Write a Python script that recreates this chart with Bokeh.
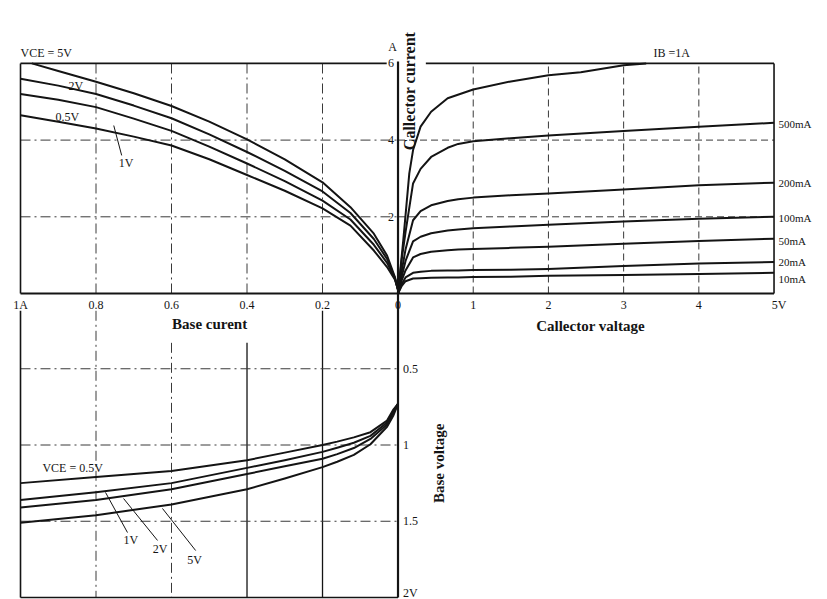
import numpy as np
from bokeh.plotting import figure
from bokeh.models import Range1d
from bokeh.core.properties import value
from bokeh.embed import file_html
from bokeh.resources import INLINE

# ---------------- data ----------------
# Output characteristics: collector voltage (V) -> collector current (A)
vce_1a = [0, 0.03, 0.07, 0.11, 0.15, 0.2, 0.3, 0.44, 0.66, 1.0, 1.5, 2.0, 2.43, 3.0, 3.3]
ic_1a = [0, 0.6, 1.39, 2.26, 3.13, 3.74, 4.35, 4.74, 5.09, 5.32, 5.53, 5.69, 5.77, 5.95, 6.0]
vce = [0, 0.05, 0.1, 0.2, 0.3, 0.44, 0.66, 0.8, 1.0, 1.5, 2.0, 3.0, 4.0, 5.0]
ic_500ma = [0, 0.9, 1.6, 2.87, 3.25, 3.56, 3.80, 3.90, 3.97, 4.05, 4.12, 4.24, 4.35, 4.45]
ic_200ma = [0, 0.6, 1.15, 1.91, 2.15, 2.30, 2.41, 2.46, 2.50, 2.56, 2.61, 2.71, 2.82, 2.89]
ic_100ma = [0, 0.45, 0.85, 1.36, 1.48, 1.57, 1.64, 1.67, 1.70, 1.75, 1.79, 1.88, 1.95, 2.0]
ic_50ma = [0, 0.35, 0.6, 0.94, 1.03, 1.09, 1.13, 1.15, 1.16, 1.19, 1.22, 1.30, 1.37, 1.43]
ic_20ma = [0, 0.25, 0.42, 0.54, 0.57, 0.59, 0.60, 0.60, 0.61, 0.62, 0.64, 0.72, 0.78, 0.82]
ic_10ma = [0, 0.2, 0.32, 0.39, 0.40, 0.41, 0.42, 0.42, 0.43, 0.44, 0.46, 0.48, 0.51, 0.54]
ib_series_labels = ["500mA", "200mA", "100mA", "50mA", "20mA", "10mA"]
ib_label_y = [4.43, 2.87, 1.98, 1.38, 0.81, 0.37]

# Current transfer: base current (A) -> collector current (A)
ib_t = [0, 0.008, 0.029, 0.064, 0.126, 0.2, 0.3, 0.4, 0.5, 0.6, 0.7, 0.8, 0.9, 1.0]
ib_t5 = [0, 0.008, 0.029, 0.064, 0.126, 0.2, 0.3, 0.4, 0.5, 0.6, 0.7, 0.8, 0.9, 0.97]
ic_t5v = [0.1, 0.42, 0.99, 1.56, 2.25, 2.9, 3.5, 4.02, 4.48, 4.89, 5.22, 5.52, 5.8, 6.0]
ic_t2v = [0.1, 0.40, 0.90, 1.42, 2.10, 2.66, 3.20, 3.69, 4.15, 4.57, 4.9, 5.2, 5.42, 5.6]
ic_t1v = [0.1, 0.38, 0.80, 1.27, 1.93, 2.42, 2.93, 3.39, 3.83, 4.24, 4.56, 4.86, 5.05, 5.2]
ic_t05v = [0.1, 0.36, 0.69, 1.12, 1.77, 2.22, 2.68, 3.09, 3.5, 3.86, 4.09, 4.30, 4.48, 4.65]

# Input characteristics: base current (A) -> base voltage (V)
ib_in = [0, 0.013, 0.029, 0.073, 0.117, 0.161, 0.2, 0.3, 0.4, 0.6, 0.8, 1.0]
vbe_05v = [0.73, 0.77, 0.84, 0.916, 0.95, 0.978, 1.0, 1.05, 1.10, 1.17, 1.21, 1.25]
vbe_1v = [0.73, 0.78, 0.853, 0.94, 0.985, 1.018, 1.045, 1.10, 1.15, 1.25, 1.31, 1.36]
vbe_2v = [0.73, 0.79, 0.866, 0.96, 1.02, 1.06, 1.09, 1.14, 1.19, 1.29, 1.36, 1.41]
vbe_5v = [0.73, 0.81, 0.88, 0.995, 1.065, 1.11, 1.145, 1.22, 1.29, 1.39, 1.46, 1.51]

# ticks
vce_ticks = [0, 1, 2, 3, 4, 5]
vce_tick_labels = ["0", "1", "2", "3", "4", "5V"]
ic_ticks = [2, 4, 6]
ic_tick_labels = ["2", "4", "6"]
ib_ticks = [1.0, 0.8, 0.6, 0.4, 0.2]
ib_tick_labels = ["1A", "0.8", "0.6", "0.4", "0.2"]
vbe_ticks = [0.5, 1.0, 1.5, 2.0]
vbe_tick_labels = ["0.5", "1", "1.5", "2V"]

INK = "#141414"
GRID = "#3a3a3a"
SERIF = value("Liberation Serif")

p = figure(width=827, height=599,
           x_range=Range1d(-5.286, 5.711), y_range=Range1d(-7.979, 7.640),
           output_backend="svg", toolbar_location=None,
           x_axis_location=None, y_axis_location=None,
           min_border=0, title=None, outline_line_color=None)
p.extra_x_ranges = {"ib": Range1d(1.053, -1.1377)}
p.extra_y_ranges = {"vbe": Range1d(2.0131, -1.9148)}
p.xgrid.grid_line_color = None
p.ygrid.grid_line_color = None

# ---------------- grid lines ----------------
# right quadrant
p.segment(x0=vce_ticks[1:5], y0=[0] * 4, x1=vce_ticks[1:5], y1=[6] * 4,
          line_color=GRID, line_width=1, line_dash="7 4")
p.segment(x0=[0, 0], y0=ic_ticks[:2], x1=[5, 5], y1=ic_ticks[:2],
          line_color=GRID, line_width=1, line_dash="7 4")
# upper-left quadrant
p.segment(x0=ib_ticks[1:], y0=[0] * 4, x1=ib_ticks[1:], y1=[6] * 4,
          line_color=GRID, line_width=1, line_dash="10 4 2 4", x_range_name="ib")
p.segment(x0=[1, 1], y0=ic_ticks[:2], x1=[0, 0], y1=ic_ticks[:2],
          line_color=GRID, line_width=1, line_dash="10 4 2 4", x_range_name="ib")
# lower quadrant (lines start below the tick labels / axis title)
p.segment(x0=ib_ticks[1:3], y0=[0.12, 0.33], x1=ib_ticks[1:3], y1=[2, 2],
          line_color=GRID, line_width=1, line_dash="10 4 2 4",
          x_range_name="ib", y_range_name="vbe")
p.segment(x0=ib_ticks[3:], y0=[0.33, 0.12], x1=ib_ticks[3:], y1=[2, 2],
          line_color=INK, line_width=1.3, x_range_name="ib", y_range_name="vbe")
p.segment(x0=[1] * 3, y0=vbe_ticks[:3], x1=[0] * 3, y1=vbe_ticks[:3],
          line_color=GRID, line_width=1, line_dash="10 4 2 4",
          x_range_name="ib", y_range_name="vbe")

# ---------------- frame / axes ----------------
p.segment(x0=[0.37, 5], y0=[6, 6], x1=[5, 5], y1=[6, 0], line_color=INK, line_width=1.6)
p.segment(x0=[1, 1], y0=[6, 6], x1=[0.03, 1], y1=[6, 0], line_color=INK, line_width=1.6,
          x_range_name="ib")
p.segment(x0=[1, 1], y0=[0.12, 2], x1=[1, 0], y1=[2, 2], line_color=INK, line_width=1.6,
          x_range_name="ib", y_range_name="vbe")
p.segment(x0=[0], y0=[0], x1=[5], y1=[0], line_color=INK, line_width=2)
p.segment(x0=[1], y0=[0], x1=[0], y1=[0], line_color=INK, line_width=2, x_range_name="ib")
p.segment(x0=[0], y0=[6.05], x1=[0], y1=[0], line_color=INK, line_width=2.2)
p.segment(x0=[0], y0=[0], x1=[0], y1=[2], line_color=INK, line_width=2.2,
          x_range_name="ib", y_range_name="vbe")

# ---------------- curves ----------------
CW = 2.0
p.line(vce_1a, ic_1a, line_color=INK, line_width=CW, line_join="round")
for ys in [ic_500ma, ic_200ma, ic_100ma, ic_50ma, ic_20ma, ic_10ma]:
    p.line(vce, ys, line_color=INK, line_width=CW, line_join="round")

p.line(ib_t5, ic_t5v, line_color=INK, line_width=CW, line_join="round", x_range_name="ib")
for ys in [ic_t2v, ic_t1v, ic_t05v]:
    p.line(ib_t, ys, line_color=INK, line_width=CW, line_join="round", x_range_name="ib")

for ys in [vbe_05v, vbe_1v, vbe_2v, vbe_5v]:
    p.line(ib_in, ys, line_color=INK, line_width=CW, line_join="round",
           x_range_name="ib", y_range_name="vbe")

# leader lines for curve labels
p.segment(x0=[0.732], y0=[3.60], x1=[0.753], y1=[4.38], line_color=INK, line_width=1,
          x_range_name="ib")
p.segment(x0=[0.7166, 0.637, 0.536], y0=[1.574, 1.626, 1.692],
          x1=[0.7748, 0.727, 0.624], y1=[1.311, 1.351, 1.416],
          line_color=INK, line_width=1, x_range_name="ib", y_range_name="vbe")

# ---------------- texts ----------------
TS = "12px"
# tick labels
p.text(x=vce_ticks, y=[-0.31] * 6, text=vce_tick_labels, text_font=SERIF, text_font_size=TS,
       text_align="center", text_baseline="middle", text_color=INK,
       x_offset=[0, 0, 0, 0, 0, 5])
p.text(x=ib_ticks, y=[-0.31] * 5, text=ib_tick_labels, text_font=SERIF, text_font_size=TS,
       text_align="center", text_baseline="middle", text_color=INK, x_range_name="ib")
p.text(x=[0] * 3, y=ic_ticks, text=ic_tick_labels, text_font=SERIF, text_font_size=TS,
       text_align="right", text_baseline="middle", text_color=INK, x_offset=-4)
p.text(x=[0], y=[6.42], text=["A"], text_font=SERIF, text_font_size=TS,
       text_align="right", text_baseline="middle", text_color=INK, x_offset=-1)
p.text(x=[0] * 4, y=vbe_ticks, text=vbe_tick_labels, text_font=SERIF, text_font_size=TS,
       text_align="left", text_baseline="middle", text_color=INK, x_offset=5,
       y_offset=[0, 0, 0, -5], x_range_name="ib", y_range_name="vbe")

# axis titles
p.text(x=[0.499], y=[-0.80], text=["Base curent"], text_font=SERIF, text_font_size="15px",
       text_font_style="bold", text_align="center", text_baseline="middle",
       text_color=INK, x_range_name="ib")
p.text(x=[2.56], y=[-0.84], text=["Callector valtage"], text_font=SERIF, text_font_size="15px",
       text_font_style="bold", text_align="center", text_baseline="middle", text_color=INK)
p.text(x=[0.155], y=[5.28], text=["Callector current"], text_font=SERIF, text_font_size="16px",
       text_font_style="bold", text_align="center", text_baseline="middle", text_color=INK,
       angle=np.pi / 2)
p.text(x=[0.55], y=[1.12], text=["Base voltage"], text_font=SERIF, text_font_size="15px",
       text_font_style="bold", text_align="center", text_baseline="middle", text_color=INK,
       angle=np.pi / 2, y_range_name="vbe")

# series labels
p.text(x=[5.06] * 6, y=ib_label_y, text=ib_series_labels, text_font=SERIF, text_font_size="11px",
       text_align="left", text_baseline="middle", text_color=INK)
p.text(x=[3.64], y=[6.26], text=["IB =1A"], text_font=SERIF, text_font_size="12px",
       text_align="center", text_baseline="middle", text_color=INK)
p.text(x=[1.0, 0.873, 0.907, 0.740], y=[6.26, 5.40, 4.59, 3.39],
       text=["VCE = 5V", "2V", "0.5V", "1V"], text_font=SERIF, text_font_size="12px",
       text_align="left", text_baseline="middle", text_color=INK, x_range_name="ib")
p.text(x=[0.942, 0.727, 0.65, 0.558], y=[1.154, 1.626, 1.68, 1.757],
       text=["VCE = 0.5V", "1V", "2V", "5V"], text_font=SERIF, text_font_size="12px",
       text_align="left", text_baseline="middle", text_color=INK,
       x_range_name="ib", y_range_name="vbe")

open("out.html", "w").write(file_html(p, INLINE))
